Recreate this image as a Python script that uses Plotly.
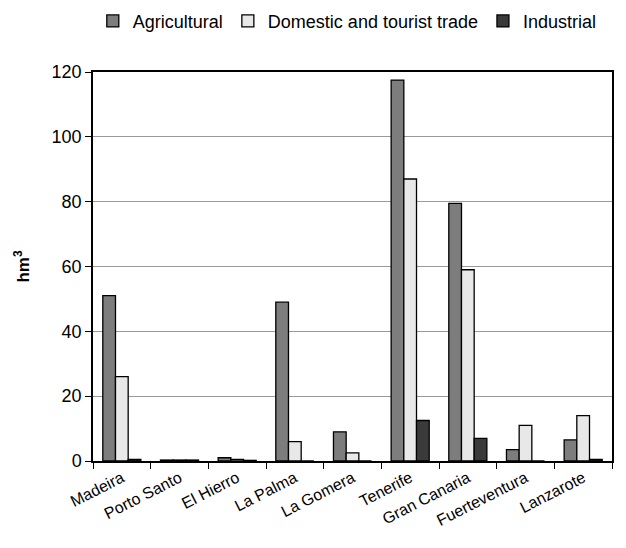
import plotly.graph_objects as go

islands = ["Madeira", "Porto Santo", "El Hierro", "La Palma", "La Gomera",
           "Tenerife", "Gran Canaria", "Fuerteventura", "Lanzarote"]
agricultural = [51, 0.3, 1.0, 49, 9, 117.5, 79.5, 3.5, 6.5]
domestic = [26, 0.3, 0.5, 6, 2.5, 87, 59, 11, 14]
industrial = [0.5, 0.3, 0.2, 0, 0, 12.5, 7, 0, 0.5]
y_ticks = [0, 20, 40, 60, 80, 100, 120]

series = [
    ("Agricultural", agricultural, "#7d7d7d"),
    ("Domestic and tourist trade", domestic, "#e8e8e8"),
    ("Industrial", industrial, "#3a3a3a"),
]

fig = go.Figure()
for name, vals, col in series:
    fig.add_trace(go.Bar(
        x=islands, y=vals, name=name,
        marker=dict(color=col, line=dict(color="black", width=1.3)),
    ))

fig.update_layout(
    width=626, height=548,
    margin=dict(l=93, r=14, t=72, b=87),
    paper_bgcolor="white", plot_bgcolor="white",
    barmode="group", bargap=0.34, bargroupgap=0.0,
    font=dict(family="Liberation Sans, Arial, sans-serif", color="black"),
    legend=dict(orientation="h", x=0.49, xanchor="center",
                y=0.995, yanchor="top", yref="container",
                font=dict(size=18), traceorder="normal",
                itemwidth=30, tracegroupgap=0),
    showlegend=True,
)
fig.update_xaxes(
    showline=True, linecolor="black", linewidth=1.5, mirror=True,
    ticks="outside", ticklen=6, tickcolor="black",
    tickangle=-27, tickfont=dict(size=16),
    tickson="boundaries",
)
fig.update_yaxes(
    range=[0, 120], tickvals=y_ticks,
    showline=True, linecolor="black", linewidth=1.5, mirror=True,
    ticks="outside", ticklen=6, tickcolor="black",
    tickfont=dict(size=18),
    showgrid=True, gridcolor="#9a9a9a", gridwidth=1,
    title=dict(text="<b>hm<sup>3</sup></b>", font=dict(size=17), standoff=18),
)

fig.write_html("out.html")
